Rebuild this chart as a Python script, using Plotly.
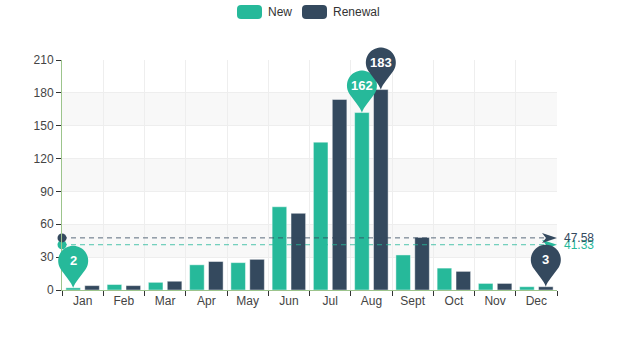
import numpy as np
import plotly.graph_objects as go

# ---- data ----
months = ["Jan", "Feb", "Mar", "Apr", "May", "Jun", "Jul", "Aug", "Sept", "Oct", "Nov", "Dec"]
new_vals = [2, 5, 7, 23, 25, 76, 135, 162, 32, 20, 6, 3]
renewal_vals = [4, 4, 8, 26, 28, 70, 174, 183, 48, 17, 6, 3]
series_names = ["New", "Renewal"]
y_ticks = [0, 30, 60, 90, 120, 150, 180, 210]

# ---- style ----
TEAL = "#26B99A"
DARK = "#34495E"
AXIS_GREEN = "#9cc48c"
GRID = "#eeeeee"
TEXT = "#444444"
FONT = "Liberation Sans, Arial, sans-serif"
W, H = 619, 350
ML, MR, MT, MB = 62, 62, 60, 60
BARGAP, BARGROUPGAP = 0.084, 0.228
offset = (1 - BARGAP) / 4.0
n_cat = len(months)
y_max = y_ticks[-1]

series = [(series_names[0], new_vals, TEAL, -offset), (series_names[1], renewal_vals, DARK, offset)]


def to_paper_x(xv):
    # linear category-axis scale: range [-0.5, n-0.5] -> [0, 1]
    return (xv + 0.5) / n_cat


def to_paper_y(yv):
    return yv / y_max


def pin_path(r=15.0, c=27.0, a0=-35.0):
    t0 = np.radians(a0)
    pr = (r * np.cos(t0), c + r * np.sin(t0))
    tan = (-np.sin(t0), np.cos(t0))
    k = 6.0
    cp2 = (pr[0] - k * tan[0], pr[1] - k * tan[1])
    p = "M0,0 C1.4,5 %.2f,%.2f %.2f,%.2f" % (cp2[0], cp2[1], pr[0], pr[1])
    for t in np.linspace(t0, np.pi - t0, 40)[1:]:
        p += " L%.2f,%.2f" % (r * np.cos(t), c + r * np.sin(t))
    p += " C%.2f,%.2f -1.4,5 0,0 Z" % (-cp2[0], cp2[1])
    return p


def rounded_rect(w, h, rad):
    hh = h / 2.0
    return ("M%.1f,%.1f L%.1f,%.1f Q%.1f,%.1f %.1f,%.1f L%.1f,%.1f Q%.1f,%.1f %.1f,%.1f "
            "L%.1f,%.1f Q%.1f,%.1f %.1f,%.1f L%.1f,%.1f Q%.1f,%.1f %.1f,%.1f Z") % (
        rad, -hh, w - rad, -hh, w, -hh, w, -hh + rad, w, hh - rad, w, hh, w - rad, hh,
        rad, hh, 0, hh, 0, hh - rad, 0, -hh + rad, 0, -hh, rad, -hh)


ARROW = "M0,0 L-15,5 L-11,0 L-15,-5 Z"
PIN = pin_path()

fig = go.Figure()
shapes = []
annotations = []

# split area bands
for i in range(1, len(y_ticks) - 1, 2):
    shapes.append(dict(type="rect", xref="paper", yref="y", x0=0, x1=1,
                       y0=y_ticks[i], y1=y_ticks[i + 1], fillcolor="#f8f8f8",
                       line=dict(width=0), layer="below"))

for name, vals, color, off in series:
    fig.add_trace(go.Bar(x=months, y=vals, name=name,
                         marker=dict(color=color, line=dict(color="rgba(255,255,255,0.45)", width=1))))

for name, vals, color, off in series:
    m = float(np.mean(vals))
    fig.add_trace(go.Scatter(x=[-0.5, n_cat - 0.5], y=[m, m], xaxis="x2", mode="lines",
                             line=dict(color=color, width=1, dash="5px,4px"), opacity=0.8,
                             cliponaxis=False, hoverinfo="skip"))
    fig.add_trace(go.Scatter(x=[-0.5], y=[m], xaxis="x2", mode="markers",
                             marker=dict(color=color, size=9, line=dict(width=0)),
                             cliponaxis=False, hoverinfo="skip"))
    shapes.append(dict(type="path", xref="paper", yref="paper", xsizemode="pixel", ysizemode="pixel",
                       xanchor=to_paper_x(n_cat - 0.5), yanchor=to_paper_y(m), path=ARROW,
                       fillcolor=color, line=dict(width=0), layer="above"))
    annotations.append(dict(x=n_cat - 0.5, y=m, xref="x2", yref="y", text="%.2f" % m,
                            showarrow=False, xanchor="left", yanchor="middle", xshift=5,
                            font=dict(family=FONT, size=12, color=color)))

for name, vals, color, off in series:
    for idx in (int(np.argmax(vals)), int(np.argmin(vals))):
        xa = idx + off
        shapes.append(dict(type="path", xref="paper", yref="paper", xsizemode="pixel", ysizemode="pixel",
                           xanchor=to_paper_x(xa), yanchor=to_paper_y(vals[idx]), path=PIN,
                           fillcolor=color, line=dict(width=0), layer="above"))
        annotations.append(dict(x=xa, y=vals[idx], xref="x2", yref="y", text="<b>%d</b>" % vals[idx],
                                showarrow=False, yshift=27, xanchor="center", yanchor="middle",
                                font=dict(family=FONT, size=13, color="white")))

# manual legend
pw, ph = W - ML - MR, H - MT - MB
legend_items = [(series_names[0], TEAL, 237), (series_names[1], DARK, 302)]
for name, color, px in legend_items:
    xp = (px - ML) / pw
    yp = (H - MB - 12) / ph
    shapes.append(dict(type="path", xref="paper", yref="paper", xsizemode="pixel", ysizemode="pixel",
                       xanchor=xp, yanchor=yp, path=rounded_rect(25, 14, 4),
                       fillcolor=color, line=dict(width=0)))
    annotations.append(dict(x=xp, y=yp, xref="paper", yref="paper", text=name, showarrow=False,
                            xanchor="left", yanchor="middle", xshift=29,
                            font=dict(family=FONT, size=12, color="#333")))

fig.update_layout(
    width=W, height=H, margin=dict(l=ML, r=MR, t=MT, b=MB),
    plot_bgcolor="white", paper_bgcolor="white", showlegend=False,
    barmode="group", bargap=BARGAP, bargroupgap=BARGROUPGAP,
    font=dict(family=FONT, size=12, color=TEXT),
    shapes=shapes, annotations=annotations,
    xaxis=dict(type="category", categoryorder="array", categoryarray=months,
               range=[-0.5, n_cat - 0.5], tickson="boundaries", showgrid=True,
               gridcolor=GRID, gridwidth=1, ticks="outside", ticklen=5, tickcolor="#333",
               showline=True, linecolor=AXIS_GREEN, linewidth=1,
               tickfont=dict(family=FONT, size=12, color=TEXT), fixedrange=True),
    xaxis2=dict(overlaying="x", anchor="y", range=[-0.5, n_cat - 0.5], visible=False,
                fixedrange=True),
    yaxis=dict(range=[0, y_max], tickvals=y_ticks, showgrid=True, gridcolor=GRID,
               ticks="outside", ticklen=5, tickcolor="#333", showline=True,
               linecolor=AXIS_GREEN, linewidth=1, zeroline=False,
               tickfont=dict(family=FONT, size=12, color=TEXT), fixedrange=True),
)

fig.write_html("out.html")
